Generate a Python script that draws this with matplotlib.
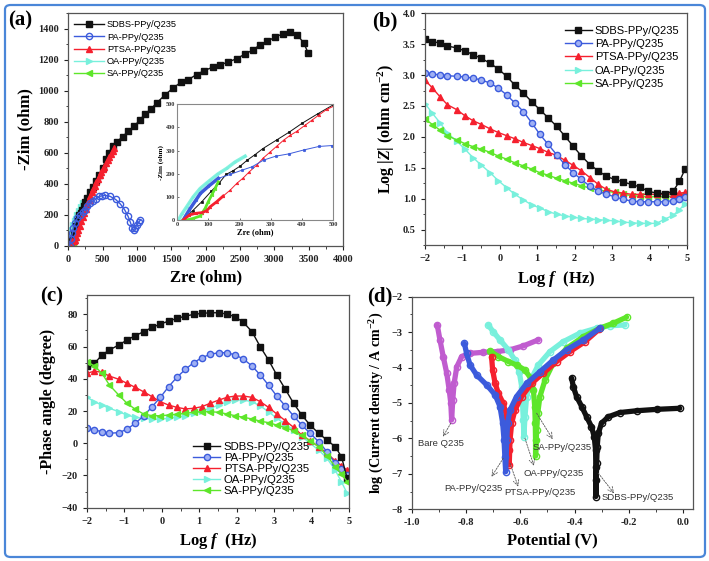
import matplotlib
matplotlib.use('Agg')
import matplotlib.pyplot as plt
from matplotlib.patches import FancyBboxPatch
from matplotlib.ticker import MultipleLocator, FormatStrFormatter

plt.rcParams['font.family'] = ['Liberation Serif', 'DejaVu Serif']
plt.rcParams['font.weight'] = 'bold'
plt.rcParams['mathtext.fontset'] = 'custom'
plt.rcParams['mathtext.rm'] = 'Liberation Serif:bold'
plt.rcParams['mathtext.bf'] = 'Liberation Serif:bold'
plt.rcParams['mathtext.it'] = 'Liberation Serif:italic:bold'

names = ['SDBS-PPy/Q235', 'PA-PPy/Q235', 'PTSA-PPy/Q235', 'OA-PPy/Q235', 'SA-PPy/Q235']
colors = ['#111111', '#3c5bdc', '#f5202e', '#78f0dc', '#5ee62a']
markers = ['s', 'o', '^', '>', '<']
bare_color = '#c05ccf'

# ---- (a) Nyquist: Zre, -Zim (ohm)
nyq_sdbs_x = [20, 50, 80, 110, 135, 157, 178, 202, 225, 250, 275, 320, 359, 400, 450, 500, 548, 587, 645, 708, 791, 873,
              960, 1043, 1120, 1203, 1286, 1411, 1527, 1639, 1745, 1867, 1979, 2100, 2210, 2330, 2450, 2570, 2690, 2790,
              2900, 3010, 3120, 3225, 3335, 3430, 3495]
nyq_sdbs_y = [0, 40, 80, 125, 160, 197, 212, 233, 259, 283, 309, 347, 380, 418, 459, 498, 560, 600, 640, 668, 704, 737,
              769, 812, 849, 881, 920, 973, 1017, 1053, 1070, 1103, 1129, 1150, 1165, 1185, 1205, 1235, 1262, 1295,
              1318, 1345, 1365, 1378, 1360, 1305, 1240]
nyq_pa_x = [20, 40, 60, 75, 100, 132, 170, 209, 240, 277, 316, 358, 406, 454, 497, 540, 610, 690, 760, 820, 870, 905,
            930, 950, 975, 1000, 1030, 1050]
nyq_pa_y = [0, 45, 85, 115, 145, 180, 197, 216, 230, 259, 276, 286, 303, 318, 322, 325, 318, 298, 268, 232, 190, 150,
            115, 100, 115, 135, 155, 165]
nyq_ptsa_x = [20, 40, 60, 80, 95, 106, 127, 148, 170, 191, 212, 231, 255, 276, 298, 319, 341, 362, 383, 410, 431, 455,
              479, 501, 524, 550, 573, 600, 621, 645, 669]
nyq_ptsa_y = [0, 22, 29, 32, 40, 57, 79, 104, 129, 158, 182, 208, 237, 268, 294, 319, 345, 366, 383, 410, 431, 455,
              478, 492, 510, 530, 550, 575, 590, 610, 629]
nyq_oa_x = [5, 15, 31, 52, 74, 95, 106, 130, 159, 185, 218]
nyq_oa_y = [0, 25, 57, 100, 136, 160, 172, 198, 223, 250, 276]
nyq_sa_x = [20, 31, 52, 74, 90, 100, 111, 122, 132]
nyq_sa_y = [0, 0, 7, 17, 50, 79, 108, 136, 165]

# ---- (b) Bode modulus and (c) phase: log f (Hz)
bode_logf = [-2.0, -1.8, -1.6, -1.4, -1.15, -0.93, -0.71, -0.49, -0.26, -0.04, 0.18, 0.4, 0.63, 0.85, 1.07, 1.29,
             1.52, 1.74, 1.96, 2.18, 2.41, 2.63, 2.85, 3.07, 3.3, 3.52, 3.74, 3.96, 4.19, 4.41, 4.63, 4.8, 4.95]
logz_sdbs = [3.58, 3.54, 3.52, 3.47, 3.44, 3.39, 3.33, 3.27, 3.19, 3.10, 2.98, 2.84, 2.71, 2.57, 2.44, 2.31,
             2.17, 2.01, 1.85, 1.69, 1.55, 1.45, 1.36, 1.31, 1.27, 1.23, 1.19, 1.12, 1.09, 1.08, 1.12, 1.28, 1.48]
logz_pa = [3.03, 3.02, 3.00, 2.99, 2.98, 2.97, 2.95, 2.92, 2.87, 2.79, 2.68, 2.55, 2.41, 2.23, 2.04, 1.88,
           1.71, 1.55, 1.42, 1.31, 1.20, 1.12, 1.07, 1.03, 0.99, 0.96, 0.95, 0.95, 0.95, 0.95, 0.97, 0.99, 1.02]
logz_ptsa = [2.92, 2.79, 2.65, 2.52, 2.44, 2.34, 2.26, 2.20, 2.13, 2.07, 2.02, 1.97, 1.91, 1.86, 1.81, 1.75,
             1.70, 1.62, 1.54, 1.45, 1.34, 1.23, 1.15, 1.11, 1.09, 1.07, 1.07, 1.07, 1.07, 1.07, 1.08, 1.09, 1.10]
logz_oa = [2.54, 2.38, 2.23, 2.06, 1.93, 1.80, 1.66, 1.54, 1.42, 1.29, 1.18, 1.07, 0.98, 0.90, 0.85, 0.79,
           0.75, 0.72, 0.70, 0.68, 0.67, 0.66, 0.65, 0.64, 0.62, 0.61, 0.60, 0.60, 0.60, 0.67, 0.73, 0.82, 0.92]
logz_sa = [2.29, 2.20, 2.11, 2.02, 1.95, 1.89, 1.84, 1.80, 1.75, 1.69, 1.64, 1.58, 1.53, 1.48, 1.42, 1.38,
           1.33, 1.29, 1.25, 1.21, 1.17, 1.14, 1.12, 1.10, 1.07, 1.05, 1.04, 1.03, 1.03, 1.03, 1.04, 1.05, 1.07]

phase_sdbs = [48, 49.6, 54.8, 57.9, 61.0, 64.1, 66.8, 69.2, 71.9, 74.0, 75.8, 77.5, 78.9, 80.0, 80.6, 81.0,
              81.0, 80.2, 78.5, 75.0, 69.2, 59.9, 51.7, 42.4, 33.5, 24.8, 17.5, 11.3, 6.2, 2.0, -2.1, -8.3, -21.7]
phase_pa = [9.3, 8.2, 7.2, 6.2, 6.6, 8.7, 12.4, 16.9, 22.7, 28.5, 35.1, 40.9, 45.9, 50.0, 53.1, 55.2,
            56.2, 56.2, 54.8, 52.3, 47.9, 42.4, 36.1, 29.3, 23.1, 16.9, 11.3, 6.2, 1.0, -5.2, -12.4, -16.0, -19.7]
phase_ptsa = [43.4, 44.8, 44.0, 41.7, 39.7, 37.2, 34.7, 32.0, 28.9, 25.8, 23.7, 22.3, 21.3, 21.7, 22.7, 24.8,
              26.8, 28.5, 29.3, 29.3, 28.5, 25.8, 22.3, 18.2, 14.0, 9.9, 5.1, 1.6, -2.1, -6.2, -10.8, -14.0, -16.6]
phase_oa = [28.5, 25.8, 23.7, 21.7, 19.6, 17.5, 16.1, 15.5, 14.9, 14.9, 15.5, 16.1, 16.9, 18.6, 20.2, 21.7,
            23.7, 25.8, 26.8, 26.8, 25.8, 23.1, 19.6, 15.5, 11.8, 8.2, 4.1, 0.0, -4.2, -9.3, -16.6, -24.0, -31.0]
phase_sa = [50.6, 48.0, 43.4, 36.1, 29.9, 24.8, 21.1, 18.2, 17.1, 17.1, 17.5, 18.0, 18.6, 19.2, 19.6, 19.6,
            19.2, 18.2, 17.1, 16.1, 15.1, 13.7, 12.8, 11.3, 9.7, 7.8, 4.9, 1.6, -2.1, -7.7, -14.5, -19.0, -23.8]

# ---- (d) Tafel: potential (V), log current density
taf_bare_v = [-0.906, -0.896, -0.884, -0.871, -0.862, -0.856, -0.853, -0.849, -0.844, -0.834, -0.816, -0.785, -0.736,
              -0.687, -0.638, -0.589, -0.534]
taf_bare_i = [-2.80, -3.22, -3.69, -4.16, -4.63, -5.01, -5.48, -4.92, -4.45, -3.98, -3.69, -3.60, -3.57,
              -3.55, -3.50, -3.39, -3.22]
taf_pa_v = [-0.806, -0.798, -0.785, -0.761, -0.724, -0.693, -0.675, -0.665, -0.660, -0.657, -0.654, -0.650, -0.647,
            -0.638, -0.614, -0.577, -0.528, -0.479, -0.430, -0.368, -0.307]
taf_pa_i = [-3.32, -3.60, -3.93, -4.21, -4.49, -4.77, -5.10, -5.57, -6.04, -6.52, -6.94, -6.04, -5.57,
            -5.20, -4.82, -4.45, -4.12, -3.79, -3.50, -3.22, -2.89]
taf_ptsa_v = [-0.706, -0.702, -0.693, -0.681, -0.663, -0.650, -0.644, -0.641, -0.641, -0.638, -0.632, -0.620, -0.595,
              -0.558, -0.516, -0.466, -0.417, -0.362, -0.310]
taf_ptsa_i = [-3.69, -4.07, -4.44, -4.73, -5.01, -5.39, -5.86, -6.33, -6.75, -6.04, -5.57, -5.20, -4.82,
              -4.44, -4.16, -3.83, -3.55, -3.27, -2.92]
taf_oa_v = [-0.718, -0.700, -0.675, -0.644, -0.620, -0.604, -0.595, -0.592, -0.589, -0.587, -0.583, -0.577, -0.562,
            -0.534, -0.491, -0.442, -0.381, -0.319, -0.270, -0.215]
taf_oa_i = [-2.80, -2.99, -3.22, -3.50, -3.79, -4.12, -4.54, -5.01, -5.48, -5.95, -5.39, -4.82, -4.35,
            -3.93, -3.55, -3.27, -3.03, -2.89, -2.82, -2.80]
taf_sa_v = [-0.712, -0.681, -0.644, -0.614, -0.583, -0.562, -0.552, -0.547, -0.545, -0.544, -0.544, -0.540, -0.536,
            -0.528, -0.509, -0.479, -0.430, -0.368, -0.307, -0.258, -0.209]
taf_sa_i = [-3.53, -3.69, -3.83, -3.93, -4.07, -4.30, -4.63, -5.10, -5.57, -6.04, -6.50, -5.76, -5.29,
            -4.82, -4.35, -3.88, -3.46, -3.13, -2.89, -2.75, -2.58]
taf_sdbs_v = [-0.411, -0.405, -0.393, -0.374, -0.356, -0.338, -0.328, -0.323, -0.322, -0.322, -0.322, -0.319, -0.317,
              -0.313, -0.301, -0.276, -0.233, -0.172, -0.098, -0.013]
taf_sdbs_i = [-4.30, -4.54, -4.82, -5.10, -5.39, -5.67, -5.95, -6.33, -6.80, -7.17, -7.64, -6.70, -6.23,
              -5.86, -5.57, -5.39, -5.27, -5.22, -5.18, -5.15]

# label text, text position, arrow tail on the curve, arrow head
taf_labels = ['Bare Q235', 'PA-PPy/Q235', 'PTSA-PPy/Q235', 'OA-PPy/Q235', 'SA-PPy/Q235', 'SDBS-PPy/Q235']
taf_label_xy = [(-0.892, -6.13), (-0.774, -7.40), (-0.528, -7.52), (-0.478, -6.98), (-0.447, -6.27), (-0.169, -7.68)]
taf_arrow_from = [(-0.856, -5.57), (-0.663, -6.56), (-0.638, -6.70), (-0.583, -6.0), (-0.540, -5.29), (-0.313, -6.98)]
taf_arrow_to = [(-0.885, -5.95), (-0.706, -7.08), (-0.608, -7.36), (-0.550, -6.77), (-0.481, -6.02), (-0.255, -7.55)]

sans = {'family': ['Liberation Sans', 'DejaVu Sans'], 'weight': 'normal'}
spine_c = '#555555'


def style_axes(ax, tsize=7.5):
    for s in ax.spines.values():
        s.set_color(spine_c)
        s.set_linewidth(0.9)
    ax.tick_params(which='both', direction='out', top=False, right=False, colors='#222222', labelsize=tsize)
    ax.tick_params(which='major', length=3, width=0.8)
    ax.tick_params(which='minor', length=1.8, width=0.6)


def ordered_legend(ax, **kw):
    h, l = ax.get_legend_handles_labels()
    h = [h[l.index(n)] for n in names]
    ax.legend(h, names, frameon=False, handletextpad=0.3, borderpad=0.3, **kw)


fig = plt.figure(figsize=(7.09, 5.61), dpi=100)

# ---- (a)
ax = fig.add_axes([0.0963, 0.562, 0.3875, 0.4148])
nyq = [(nyq_sdbs_x, nyq_sdbs_y), (nyq_pa_x, nyq_pa_y), (nyq_ptsa_x, nyq_ptsa_y), (nyq_oa_x, nyq_oa_y), (nyq_sa_x, nyq_sa_y)]
for i in [3, 4, 0, 2, 1]:
    x, y = nyq[i]
    mfc = 'none' if i == 1 else colors[i]
    ax.plot(x, y, color=colors[i], marker=markers[i], ms=4.5, mfc=mfc, mew=1.0, lw=1, label=names[i])
ax.set_xlim(0, 4000)
ax.set_ylim(0, 1500)
ax.xaxis.set_major_locator(MultipleLocator(500))
ax.xaxis.set_minor_locator(MultipleLocator(250))
ax.yaxis.set_major_locator(MultipleLocator(200))
ax.yaxis.set_minor_locator(MultipleLocator(100))
style_axes(ax)
ax.set_xlabel('Zre (ohm)', fontsize=12, fontweight='bold', labelpad=4)
ax.set_ylabel('-Zim (ohm)', fontsize=12, fontweight='bold', labelpad=4)
ordered_legend(ax, loc='upper left', bbox_to_anchor=(-0.005, 1.0), prop=dict(sans, size=6.7), labelspacing=0.35,
               handlelength=3.2)

axi = fig.add_axes([0.2496, 0.6078, 0.2205, 0.2062])
for i in [3, 4, 0, 2, 1]:
    x, y = nyq[i]
    axi.plot(x, y, color=colors[i], lw=0.7, marker=markers[i], ms=1.8, mew=0.5)
axi.plot(nyq_oa_x, nyq_oa_y, color=colors[3], lw=2.5, alpha=0.9)
axi.plot(nyq_pa_x[:6], nyq_pa_y[:6], color=colors[1], lw=2.5)
axi.plot(nyq_sa_x, nyq_sa_y, color=colors[4], lw=2)
axi.plot(nyq_ptsa_x[:8], nyq_ptsa_y[:8], color=colors[2], lw=2)
axi.set_xlim(0, 500)
axi.set_ylim(0, 500)
axi.xaxis.set_major_locator(MultipleLocator(100))
axi.yaxis.set_major_locator(MultipleLocator(100))
for s in axi.spines.values():
    s.set_color('#888888')
    s.set_linewidth(0.8)
axi.tick_params(direction='in', length=1.5, width=0.5, labelsize=4.5, pad=1.5, colors='#333333')
axi.set_xlabel('Zre (ohm)', fontsize=6, fontweight='bold', labelpad=1)
axi.set_ylabel('-Zim (ohm)', fontsize=5, fontweight='bold', labelpad=1)

# ---- (b)
ax = fig.add_axes([0.5994, 0.5633, 0.3695, 0.4130])
logz = [logz_sdbs, logz_pa, logz_ptsa, logz_oa, logz_sa]
for i in [3, 4, 2, 1, 0]:
    mfc = '#9fb0f4' if i == 1 else colors[i]
    ax.plot(bode_logf, logz[i], color=colors[i], marker=markers[i], ms=4.5, mfc=mfc, mew=1.0, lw=1, label=names[i])
ax.set_xlim(-2, 5)
ax.set_ylim(0.25, 4.0)
ax.xaxis.set_major_locator(MultipleLocator(1))
ax.xaxis.set_minor_locator(MultipleLocator(0.5))
ax.yaxis.set_major_locator(MultipleLocator(0.5))
ax.yaxis.set_minor_locator(MultipleLocator(0.25))
ax.yaxis.set_major_formatter(FormatStrFormatter('%.1f'))
style_axes(ax)
ax.set_xlabel(r'Log $\mathit{f}$  (Hz)', fontsize=12, fontweight='bold', labelpad=4)
ax.set_ylabel(r'Log |$\mathit{Z}$| (ohm cm$^{-2}$)', fontsize=11.5, fontweight='bold', labelpad=4)
ordered_legend(ax, loc='upper left', bbox_to_anchor=(0.5, 0.985), prop=dict(sans, size=8), labelspacing=0.3,
               handlelength=2.4)

# ---- (c)
ax = fig.add_axes([0.1227, 0.0950, 0.3695, 0.3791])
phase = [phase_sdbs, phase_pa, phase_ptsa, phase_oa, phase_sa]
for i in [3, 2, 1, 0, 4]:
    mfc = '#9fb0f4' if i == 1 else colors[i]
    ax.plot(bode_logf, phase[i], color=colors[i], marker=markers[i], ms=4.5, mfc=mfc, mew=1.0, lw=1, label=names[i])
ax.set_xlim(-2, 5)
ax.set_ylim(-40, 92)
ax.xaxis.set_major_locator(MultipleLocator(1))
ax.xaxis.set_minor_locator(MultipleLocator(0.5))
ax.yaxis.set_major_locator(MultipleLocator(20))
ax.yaxis.set_minor_locator(MultipleLocator(10))
style_axes(ax)
ax.set_xlabel(r'Log $\mathit{f}$  (Hz)', fontsize=12, fontweight='bold', labelpad=4)
ax.set_ylabel('-Phase angle (degree)', fontsize=11.5, fontweight='bold', labelpad=4)
ordered_legend(ax, loc='upper left', bbox_to_anchor=(0.37, 0.35), prop=dict(sans, size=8.2), labelspacing=0.08,
               handlelength=2.4)

# ---- (d)
ax = fig.add_axes([0.5807, 0.0922, 0.3972, 0.3790])
tafel = [(taf_bare_v, taf_bare_i, bare_color), (taf_oa_v, taf_oa_i, colors[3]), (taf_sa_v, taf_sa_i, colors[4]),
         (taf_ptsa_v, taf_ptsa_i, colors[2]), (taf_pa_v, taf_pa_i, colors[1]), (taf_sdbs_v, taf_sdbs_i, colors[0])]
for v, li, c in tafel:
    ax.plot(v, li, color=c, lw=3.8, solid_capstyle='round', solid_joinstyle='round')
    ax.plot(v, li, ls='none', marker='o', ms=4.5, mfc='none', mec=c, mew=1.0)
for t, xy, a0, a1 in zip(taf_labels, taf_label_xy, taf_arrow_from, taf_arrow_to):
    ax.annotate('', xy=a1, xytext=a0,
                arrowprops=dict(arrowstyle='->', color='#555555', lw=0.6, ls=(0, (2, 1.5)), shrinkA=0, shrinkB=0))
    ax.text(xy[0], xy[1], t, ha='center', va='center', fontsize=6.8, color='#333333', **sans)
ax.set_xlim(-1.0, 0.037)
ax.set_ylim(-8, -2)
ax.xaxis.set_major_locator(MultipleLocator(0.2))
ax.xaxis.set_minor_locator(MultipleLocator(0.1))
ax.yaxis.set_major_locator(MultipleLocator(1))
ax.yaxis.set_minor_locator(MultipleLocator(0.5))
ax.xaxis.set_major_formatter(FormatStrFormatter('%.1f'))
style_axes(ax)
ax.set_xlabel('Potential (V)', fontsize=12, fontweight='bold', labelpad=4)
ax.set_ylabel(r'log (Current density / A cm$^{-2}$)', fontsize=10.2, fontweight='bold', labelpad=4)

# panel letters
for t, x, y in [('(a)', 0.028, 0.964), ('(b)', 0.543, 0.962), ('(c)', 0.073, 0.472), ('(d)', 0.535, 0.472)]:
    fig.text(x, y, t, fontsize=15, fontweight='bold', ha='center', va='center')

# blue frame around the figure
frame = FancyBboxPatch((5 / 709, 4 / 561), 700 / 709, 552 / 561, boxstyle='round,pad=0,rounding_size=0.008',
                       transform=fig.transFigure, fill=False, edgecolor='#4a86d8', lw=1.6)
fig.patches.append(frame)

fig.savefig('out.png', dpi=100)
